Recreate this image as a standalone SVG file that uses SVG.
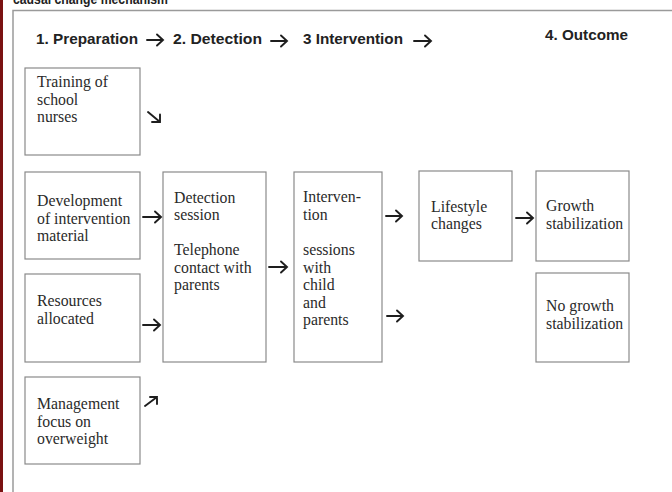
<svg xmlns="http://www.w3.org/2000/svg" width="672" height="492" viewBox="0 0 672 492">
<style>
.box{fill:#fff;stroke:#8a8a8a;stroke-width:1.2}
.t{font-family:"Liberation Serif","Times New Roman",serif;font-size:15.8px;fill:#2a2a2a}
.h{font-family:"Liberation Sans",Arial,sans-serif;font-size:15px;font-weight:bold;fill:#222}
.a{fill:none;stroke:#1e1e1e;stroke-width:1.9;stroke-linecap:round;stroke-linejoin:miter}
</style>
<rect width="672" height="492" fill="#fff"/>
<rect x="0" y="0" width="3" height="492" fill="#7a1212"/>
<path d="M13 492 V10.5 H672" fill="none" stroke="#9a9a9a" stroke-width="1.5"/>
<text class="h" x="13" y="4" textLength="155" lengthAdjust="spacingAndGlyphs">causal change mechanism</text>
<g id="headers">
<text class="h" x="36" y="44" textLength="102" lengthAdjust="spacingAndGlyphs">1. Preparation</text>
<text class="h" x="173" y="44" textLength="89" lengthAdjust="spacingAndGlyphs">2. Detection</text>
<text class="h" x="303" y="44" textLength="100" lengthAdjust="spacingAndGlyphs">3 Intervention</text>
<text class="h" x="545" y="40" textLength="83" lengthAdjust="spacingAndGlyphs">4. Outcome</text>
</g>
<g id="training"><rect class="box" x="25" y="68" width="115" height="87"/>
<text class="t" x="37" y="87">Training of</text><text class="t" x="37" y="104.5">school</text><text class="t" x="37" y="122">nurses</text></g>
<g id="development"><rect class="box" x="25" y="172" width="115" height="87"/>
<text class="t" x="37" y="206">Development</text><text class="t" x="37" y="223.5">of intervention</text><text class="t" x="37" y="241">material</text></g>
<g id="resources"><rect class="box" x="25" y="274" width="115" height="88"/>
<text class="t" x="37" y="306">Resources</text><text class="t" x="37" y="324">allocated</text></g>
<g id="management"><rect class="box" x="25" y="377" width="115" height="87"/>
<text class="t" x="37" y="409">Management</text><text class="t" x="37" y="426.5">focus on</text><text class="t" x="37" y="444">overweight</text></g>
<g id="detection"><rect class="box" x="163" y="172" width="103" height="190"/>
<text class="t" x="174" y="203">Detection</text><text class="t" x="174" y="220">session</text>
<text class="t" x="174" y="255">Telephone</text><text class="t" x="174" y="272.5">contact with</text><text class="t" x="174" y="290">parents</text></g>
<g id="intervention"><rect class="box" x="294" y="172" width="88" height="190"/>
<text class="t" x="303" y="202">Interven-</text><text class="t" x="303" y="220">tion</text>
<text class="t" x="303" y="255">sessions</text><text class="t" x="303" y="272.5">with</text><text class="t" x="303" y="290">child</text><text class="t" x="303" y="307.5">and</text><text class="t" x="303" y="325">parents</text></g>
<g id="lifestyle"><rect class="box" x="419" y="171" width="93" height="90"/>
<text class="t" x="431" y="212">Lifestyle</text><text class="t" x="431" y="229">changes</text></g>
<g id="growth"><rect class="box" x="536" y="171" width="93" height="90"/>
<text class="t" x="546" y="211">Growth</text><text class="t" x="546" y="229">stabilization</text></g>
<g id="nogrowth"><rect class="box" x="536" y="273" width="93" height="89"/>
<text class="t" x="546" y="311">No growth</text><text class="t" x="546" y="329">stabilization</text></g>
<g id="connectors">
<path class="a" d="M147 40 H163 M157 34.5 L163 40 L157 45.5"/>
<path class="a" d="M271 41 H287 M281 35.5 L287 41 L281 46.5"/>
<path class="a" d="M414 41 H431 M425 35.5 L431 41 L425 46.5"/>
<path class="a" d="M148 112 L160 122 M160 114.5 L160 122 L152 122"/>
<path class="a" d="M143 217 H161 M155 211.5 L161 217 L155 222.5"/>
<path class="a" d="M143 325 H160 M154 319.5 L160 325 L154 330.5"/>
<path class="a" d="M145 406 L157 397 M150 397 L157 397 L157 404"/>
<path class="a" d="M269 267 H287 M281 261.5 L287 267 L281 272.5"/>
<path class="a" d="M386 216 H402 M396 210.5 L402 216 L396 221.5"/>
<path class="a" d="M387 316 H403 M397 310.5 L403 316 L397 321.5"/>
<path class="a" d="M516 218 H533 M527 212.5 L533 218 L527 223.5"/>
</g>
</svg>
